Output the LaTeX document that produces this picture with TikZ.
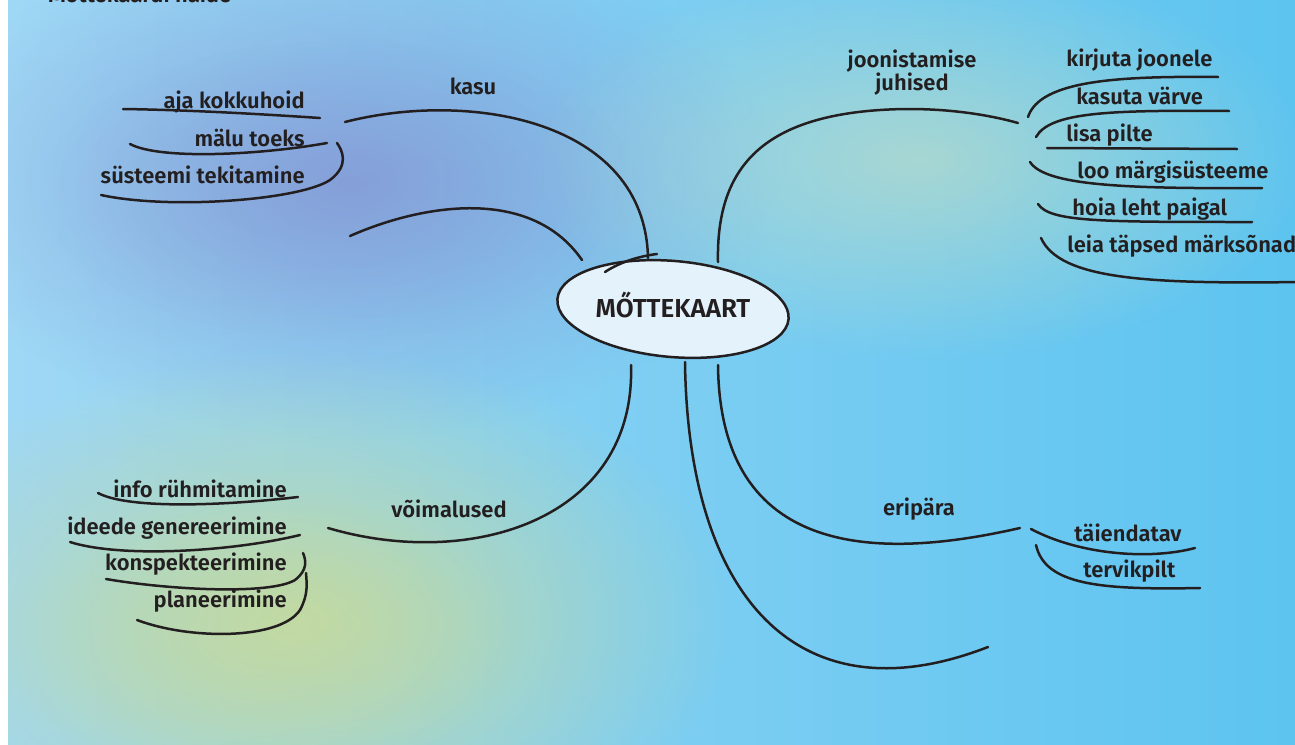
\documentclass[tikz,border=0pt]{standalone}
\usepackage{fontspec}
\setmainfont{Fira Sans}[BoldFont={Fira Sans SemiBold}]
\usetikzlibrary{fadings}
\definecolor{ink}{HTML}{231F20}
\definecolor{skylight}{RGB}{160,216,245}
\definecolor{skydeep}{RGB}{92,196,240}
\definecolor{lavender}{RGB}{132,150,212}
\definecolor{meadow}{RGB}{196,218,160}
\definecolor{sand}{RGB}{205,224,190}
\definecolor{cloud}{RGB}{228,242,251}
\tikzfading[name=softblob, inner color=transparent!0, outer color=transparent!100]
\tikzstyle{branch} = [line width=0.05cm, draw=ink, line cap=round]
\tikzstyle{word} = [text=ink, inner sep=0pt, font=\fontsize{12.5}{13}\selectfont\bfseries]
\tikzstyle{bigword} = [text=ink, inner sep=0pt, font=\fontsize{14.8}{15}\selectfont\bfseries]

\begin{document}
\begin{tikzpicture}[x=0.02cm, y=-0.02cm]
	%Background
	\useasboundingbox (0,0) rectangle (1295,744);
	\shade[left color=skylight, right color=skydeep] (-10,-10) rectangle (1305,754);
	\fill[lavender, opacity=0.75, path fading=softblob] (350,180) ellipse (430 and 260);
	\fill[lavender, opacity=0.35, path fading=softblob] (340,190) ellipse (300 and 150);
	\fill[meadow, opacity=0.95, path fading=softblob] (300,620) ellipse (430 and 270);
	\fill[meadow, opacity=0.5, path fading=softblob] (260,640) ellipse (260 and 140);
	\fill[sand, opacity=0.6, path fading=softblob] (920,160) ellipse (390 and 200);
	\fill[white] (-10,-10) rectangle (8,754);
	\node[word, anchor=base west] (heading) at (48,2) {Mõttekaardi näide};

	%Centre
	\draw[branch, fill=cloud, rotate around={-5:(673,309)}] (673,309) ellipse (116 and 48);
	\draw[branch] (605,272) .. controls (620,262) and (640,256) .. (657,254);
	\node[bigword, anchor=base] (centre) at (673,317) {MŐTTEKAART};

	%Kasu
	\draw[branch] (345,122) .. controls (470,90) and (645,120) .. (648,258);
	\node[word, anchor=base] (kasu) at (473,94) {kasu};
	\draw[branch] (123,109) .. controls (190,110) and (260,114) .. (320,118);
	\node[word, anchor=base east] (aja) at (305,108) {aja kokkuhoid};
	\draw[branch] (130,144) .. controls (160,160) and (260,155) .. (327,143);
	\node[word, anchor=base east] (malu) at (305,146) {mälu toeks};
	\draw[branch] (101,195) .. controls (170,210) and (300,200) .. (330,180) .. controls (350,165) and (342,150) .. (337,143);
	\node[word, anchor=base east] (systeem) at (305,183) {süsteemi tekitamine};

	%Empty branch
	\draw[branch] (350,236) .. controls (420,205) and (530,185) .. (582,260);

	%Joonistamise juhised
	\draw[branch] (718,262) .. controls (716,170) and (760,118) .. (880,110) .. controls (940,106) and (990,115) .. (1018,123);
	\node[word, anchor=base] (juhisedA) at (912,67) {joonistamise};
	\node[word, anchor=base] (juhisedB) at (912,90) {juhised};
	\draw[branch] (1028,117) .. controls (1040,80) and (1120,76) .. (1218,77);
	\node[word, anchor=base west] (kirjuta) at (1066,66) {kirjuta joonele};
	\draw[branch] (1036,137) .. controls (1050,112) and (1110,110) .. (1229,111);
	\node[word, anchor=base west] (kasuta) at (1076,104) {kasuta värve};
	\draw[branch] (1047,148) -- (1237,149);
	\node[word, anchor=base west] (lisa) at (1066,141) {lisa pilte};
	\draw[branch] (1030,162) .. controls (1045,185) and (1120,189) .. (1262,188);
	\node[word, anchor=base west] (loo) at (1077,178) {loo märgisüsteeme};
	\draw[branch] (1038,204) .. controls (1050,222) and (1100,222) .. (1252,222);
	\node[word, anchor=base west] (hoia) at (1072,215) {hoia leht paigal};
	\draw[branch] (1041,238) .. controls (1060,280) and (1150,284) .. (1300,282);
	\node[word, anchor=base west] (leia) at (1067,252) {leia täpsed märksõnad};

	%Voimalused
	\draw[branch] (631,365) .. controls (636,520) and (470,570) .. (328,528);
	\node[word, anchor=base] (voimalused) at (449,517) {võimalused};
	\draw[branch] (98,493) .. controls (130,510) and (230,505) .. (298,497);
	\node[word, anchor=base east] (info) at (287,497) {info rühmitamine};
	\draw[branch] (70,542) .. controls (120,558) and (230,552) .. (300,535);
	\node[word, anchor=base east] (ideede) at (287,534) {ideede genereerimine};
	\draw[branch] (106,579) .. controls (170,590) and (270,595) .. (295,580) .. controls (308,570) and (306,560) .. (303,553);
	\node[word, anchor=base east] (konspekt) at (287,570) {konspekteerimine};
	\draw[branch] (137,620) .. controls (190,640) and (280,640) .. (300,610) .. controls (308,595) and (307,585) .. (306,573);
	\node[word, anchor=base east] (planeer) at (287,607) {planeerimine};

	%Empty branch
	\draw[branch] (685,362) .. controls (688,600) and (800,720) .. (988,647);

	%Eripara
	\draw[branch] (718,365) .. controls (720,560) and (880,560) .. (1020,528);
	\node[word, anchor=base] (eripara) at (919,515) {eripära};
	\draw[branch] (1031,529) .. controls (1080,555) and (1150,560) .. (1195,548);
	\node[word, anchor=base west] (taiend) at (1074,541) {täiendatav};
	\draw[branch] (1036,545) .. controls (1045,585) and (1100,590) .. (1200,588);
	\node[word, anchor=base west] (tervik) at (1083,577) {tervikpilt};
\end{tikzpicture}
\end{document}
